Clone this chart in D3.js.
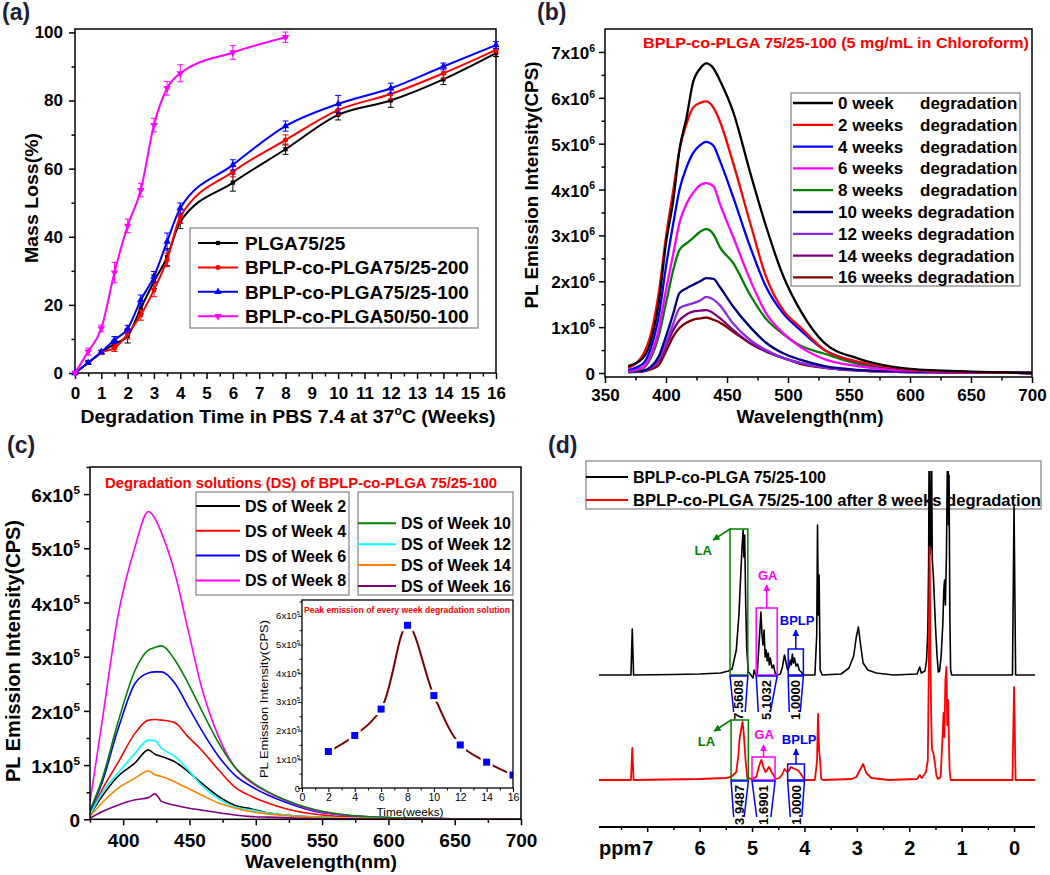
<!DOCTYPE html>
<html><head><meta charset="utf-8">
<script src="https://cdn.jsdelivr.net/npm/d3@7"></script>
<style>
body{margin:0;background:#fff}
svg{display:block}
text{font-family:"Liberation Sans",Arial,sans-serif}
</style>
</head><body>
<svg id="c" width="1050" height="875"></svg>
<script>
// ================= DATA =================
// (a) mass loss
const weeksA = [0,0.5,1,1.5,2,2.5,3,3.5,4,6,8,10,12,14,16];
const plga7525 = [0,3,6,8.5,10.8,19,26.8,34,44.4,55.9,65.7,75.8,80,86.2,93.9];
const plga7525Err = [0,0.5,0.6,1,2,1.5,2,2.5,2,2.5,1.5,1.5,2,1.5,1];
const bplp200 = [0,3,6,7.3,11.5,17,24.4,33.2,45.9,59.1,68.4,77.2,81.9,88,94.9];
const bplp200Err = [0,0.5,0.5,1,1.5,1.5,2,2,2,1.5,1.5,1.5,1.5,1.5,1];
const bplp100 = [0,3,6.2,9.7,13,21.4,28.3,38.6,48.4,61.1,72.5,79,83.6,90,96.3];
const bplp100Err = [0,0.5,0.5,1,1,1.5,1.5,2.5,1.5,1.5,1.5,2.5,1.5,1,1];
const weeksA5050 = [0,0.5,1,1.5,2,2.5,3,3.5,4,6,8];
const bplp5050 = [0,6.3,13.1,29.5,43.2,53.7,72.8,83.6,88,94.1,98.6];
const bplp5050Err = [0,1,1,3,2,2,2,2,2.5,2,1.5];
const namesA = ["PLGA75/25","BPLP-co-PLGA75/25-200","BPLP-co-PLGA75/25-100","BPLP-co-PLGA50/50-100"];
const ticksA = [0,1,2,3,4,5,6,7,8,9,10,11,12,13,14,15,16];

// (b) PL spectra of films (units of 1e6 CPS)
const wlB = [369,381,387,394,400,406,411,417,422,428,433,439,444,455,469,482,496,510,530,557,585,600,650,700];
const wk0  = [0.15,0.32,0.65,1.52,2.83,3.77,4.86,5.59,6.32,6.64,6.75,6.64,6.39,5.7,4.37,3.2,2.12,1.37,0.65,0.32,0.14,0.09,0.03,0];
const wk2  = [0.11,0.39,0.79,1.74,2.97,3.99,4.86,5.45,5.78,5.89,5.92,5.78,5.5,4.58,3.27,2.1,1.37,1.0,0.5,0.25,0.12,0.07,0.02,0];
const wk4  = [0.07,0.2,0.5,1.23,2.32,3.27,3.99,4.5,4.79,4.97,5.04,4.95,4.64,3.84,2.75,1.88,1.3,0.94,0.5,0.24,0.11,0.07,0.02,0];
const wk6  = [0.04,0.12,0.36,0.94,1.81,2.61,3.27,3.7,3.92,4.1,4.14,4.07,3.7,2.97,2.03,1.3,0.87,0.57,0.3,0.15,0.07,0.05,0.01,0];
const wk8  = [0.03,0.1,0.3,0.8,1.52,2.25,2.68,2.83,2.94,3.08,3.14,3.02,2.75,2.4,1.7,1.18,0.85,0.6,0.42,0.2,0.1,0.07,0.02,0];
const wk10 = [0.03,0.05,0.12,0.36,0.8,1.3,1.74,1.85,1.92,2.0,2.07,2.05,1.88,1.45,1.0,0.66,0.43,0.29,0.15,0.07,0.04,0.03,0.01,0];
const wk12 = [0.02,0.04,0.1,0.29,0.65,1.08,1.41,1.48,1.52,1.58,1.66,1.6,1.48,1.08,0.72,0.5,0.33,0.22,0.12,0.06,0.03,0.02,0.01,0];
const wk14 = [0.02,0.04,0.1,0.25,0.58,0.94,1.15,1.28,1.34,1.36,1.37,1.3,1.2,0.94,0.65,0.47,0.33,0.22,0.12,0.06,0.03,0.02,0.01,0];
const wk16 = [0.02,0.03,0.07,0.17,0.47,0.8,0.98,1.1,1.16,1.19,1.21,1.16,1.1,0.9,0.65,0.47,0.33,0.2,0.11,0.05,0.03,0.02,0.01,0];
const labelsB = ["0 week","2 weeks","4 weeks","6 weeks","8 weeks","10 weeks","12 weeks","14 weeks","16 weeks"];
const colorsB = ["#000000","#FF0000","#0000FF","#FF00FF","#008000","#000080","#8A2BE2","#800080","#800000"];

// (c) PL spectra of degradation solutions (units of 1e5 CPS)
const wlC = [375,384,396,409,419,424,429,439,449,459,472,484,497,509,522,550,600,650,700];
const ds2  = [0.08,0.42,0.79,1.04,1.28,1.2,1.16,1.06,0.88,0.67,0.42,0.26,0.19,0.12,0.08,0.04,0.01,0,0];
const ds4  = [0.1,0.54,1.04,1.59,1.83,1.84,1.83,1.78,1.52,1.28,0.91,0.6,0.42,0.3,0.2,0.08,0.02,0.01,0];
const ds6  = [0.15,0.67,1.65,2.51,2.7,2.72,2.72,2.51,2.08,1.65,1.16,0.82,0.6,0.45,0.32,0.12,0.03,0.01,0];
const ds8  = [0.32,1.78,3.74,5.03,5.68,5.55,5.28,4.54,3.49,2.45,1.52,0.97,0.67,0.5,0.35,0.13,0.03,0.01,0];
const ds10 = [0.17,0.73,1.78,2.75,3.12,3.17,3.2,2.94,2.51,2.02,1.41,0.97,0.69,0.51,0.36,0.15,0.03,0.01,0];
const ds12 = [0.08,0.48,0.85,1.22,1.46,1.45,1.31,1.16,0.91,0.63,0.38,0.23,0.17,0.12,0.08,0.04,0.01,0,0];
const ds14 = [0.05,0.3,0.57,0.76,0.89,0.82,0.79,0.69,0.57,0.45,0.3,0.21,0.14,0.1,0.07,0.03,0.01,0,0];
const ds16 = [0.02,0.14,0.26,0.36,0.4,0.47,0.33,0.26,0.21,0.17,0.12,0.08,0.05,0.04,0.03,0.01,0,0,0];
const labelsC = ["DS of Week 2","DS of Week 4","DS of Week 6","DS of Week 8","DS of Week 10","DS of Week 12","DS of Week 14","DS of Week 16"];
const colorsC = ["#000000","#FF0000","#0000FF","#FF00FF","#008000","#00FFFF","#FF8000","#800080"];
// inset: peak emission (1e5 CPS)
const weeksInset = [2,4,6,8,10,12,14,16];
const peakInset = [1.27,1.83,2.75,5.67,3.22,1.5,0.9,0.45];

// (d) 1H NMR [ppm, intensity]
const nmrBefore = [[7.92,0],[7.31,0],[7.285,46],[7.26,0],[6.5,0.5],[6.0,1],[5.6,2],[5.45,4],[5.38,6],[5.30,25],[5.25,60],[5.22,95],[5.19,128],[5.17,145],[5.155,118],[5.14,140],[5.12,70],[5.10,25],[5.07,3],[5.02,0],[4.98,-3],[4.96,5],[4.93,0],[4.90,2],[4.87,28],[4.85,45],[4.83,63],[4.81,40],[4.79,30],[4.77,45],[4.75,18],[4.73,25],[4.71,14],[4.69,22],[4.67,10],[4.65,17],[4.62,7],[4.59,10],[4.56,2],[4.52,0],[4.46,1],[4.42,8],[4.38,20],[4.35,12],[4.32,5],[4.29,8],[4.27,15],[4.25,10],[4.23,21],[4.21,12],[4.19,17],[4.16,9],[4.13,11],[4.10,5],[4.06,3],[4.02,0],[3.80,0],[3.765,40],[3.75,150],[3.735,60],[3.72,100],[3.70,5],[3.66,0],[3.30,1],[3.15,7],[3.06,19],[3.01,38],[2.97,48],[2.93,31],[2.88,12],[2.79,5],[2.63,2],[2.3,0],[1.85,1],[1.80,8],[1.77,2],[1.70,4],[1.67,14],[1.645,45],[1.63,110],[1.62,240],[1.605,120],[1.59,130],[1.575,240],[1.56,115],[1.54,100],[1.52,75],[1.50,50],[1.47,20],[1.445,3],[1.42,4],[1.39,20],[1.36,50],[1.34,85],[1.325,95],[1.31,70],[1.29,120],[1.275,200],[1.26,240],[1.25,150],[1.24,200],[1.225,60],[1.21,5],[1.19,0],[0.5,0],[0.03,0],[0.0,170],[-0.03,0],[-0.4,0]];
const nmrAfter = [[7.92,0],[7.31,0],[7.285,32],[7.26,0],[6.0,1],[5.5,2],[5.4,3],[5.3,8],[5.26,25],[5.24,40],[5.21,50],[5.19,56],[5.18,58],[5.16,48],[5.15,40],[5.12,18],[5.09,2],[5.0,1],[4.92,3],[4.87,13],[4.84,18],[4.82,20],[4.79,14],[4.77,11],[4.74,8],[4.71,10],[4.68,13],[4.66,12],[4.63,8],[4.60,6],[4.55,1],[4.48,2],[4.43,5],[4.38,11],[4.33,8],[4.30,9],[4.26,13],[4.22,12],[4.18,11],[4.14,10],[4.11,9],[4.07,6],[4.03,3],[3.99,0],[3.80,0],[3.76,19],[3.74,66],[3.72,30],[3.70,19],[3.68,1],[3.64,0],[3.1,1],[3.01,3],[2.94,10],[2.88,16],[2.82,7],[2.72,2],[2.4,0],[1.85,1],[1.80,5],[1.76,2],[1.68,8],[1.645,20],[1.625,120],[1.61,233],[1.595,120],[1.58,60],[1.565,30],[1.54,27],[1.51,17],[1.48,4],[1.45,1],[1.40,3],[1.37,37],[1.345,67],[1.33,43],[1.31,100],[1.29,113],[1.275,55],[1.26,80],[1.245,45],[1.23,10],[1.21,0],[0.5,0],[0.03,0],[0.0,93],[-0.03,0],[-0.4,0]];
const namesD = ["BPLP-co-PLGA 75/25-100","BPLP-co-PLGA 75/25-100 after 8 weeks degradation"];
const regionNames = ["LA","GA","BPLP"];
const regionColors = ["#008000","#FF00FF","#0000FF"];
const boxPpmBefore = [[5.42,5.08],[4.92,4.52],[4.31,4.02]];
const boxTopBefore = [146,67,26];
const trapPpmBefore = [[5.35,5.13],[4.88,4.65],[4.29,4.08]];
const integBefore = ["7.5608","5.1032","1.0000"];
const boxPpmAfter = [[5.40,5.07],[5.00,4.56],[4.32,4.00]];
const boxTopAfter = [60,23,16];
const trapPpmAfter = [[5.35,5.15],[4.91,4.64],[4.27,4.05]];
const integAfter = ["3.9487","1.6901","1.0000"];
const ppmTicks = [0,1,2,3,4,5,6,7];

// ================= HELPERS =================
const svg = d3.select('#c');
const defs = svg.append('defs');
const FONT = '"Liberation Sans", Arial, sans-serif';

function T(g, x, y, s, size, o = {}) {
  const t = g.append('text').attr('x', x).attr('y', y).attr('font-size', size)
    .attr('font-weight', o.weight || 'bold').attr('fill', o.fill || '#000')
    .attr('text-anchor', o.anchor || 'start').text(s);
  if (o.len) t.attr('textLength', o.len).attr('lengthAdjust', 'spacingAndGlyphs');
  if (o.rot) t.attr('transform', `rotate(${o.rot},${x},${y})`);
  if (o.family) t.attr('font-family', o.family);
  if (o.dy) t.attr('dy', o.dy);
  return t;
}
function sci(g, x, y, mant, exp, size, weight) {
  const t = g.append('text').attr('x', x).attr('y', y).attr('font-size', size)
    .attr('font-weight', weight || 'bold').attr('text-anchor', 'end').attr('fill', '#000');
  if (mant === 0) { t.text('0'); return t; }
  t.append('tspan').text(mant + 'x10');
  t.append('tspan').attr('font-size', size * 0.62).attr('dy', -size * 0.42).text(exp);
  return t;
}
function axisTicks(g, axisFn, scale, major, minor, majLen, minLen, tr, fmt, fs, pad, weight, sw) {
  const a = g.append('g').attr('transform', tr)
    .call(axisFn(scale).tickValues(major).tickSize(majLen).tickPadding(pad).tickFormat(fmt || (() => '')));
  a.select('.domain').remove();
  a.selectAll('line').attr('stroke', '#000').attr('stroke-width', sw || 1.5);
  a.selectAll('text').attr('font-size', fs).attr('font-weight', weight || 'bold').attr('font-family', FONT).attr('fill', '#000');
  if (minor) {
    const m = g.append('g').attr('transform', tr).call(axisFn(scale).tickValues(minor).tickSize(minLen).tickFormat(() => ''));
    m.select('.domain').remove();
    m.selectAll('line').attr('stroke', '#000').attr('stroke-width', sw || 1.5);
  }
}
function frame(g, x0, y0, x1, y1, sw) {
  g.append('rect').attr('x', x0).attr('y', y0).attr('width', x1 - x0).attr('height', y1 - y0)
    .attr('fill', 'none').attr('stroke', '#000').attr('stroke-width', sw || 1.5);
}
function legendBox(g, x0, y0, x1, y1) {
  g.append('rect').attr('x', x0).attr('y', y0).attr('width', x1 - x0).attr('height', y1 - y0)
    .attr('fill', '#fff').attr('stroke', '#808080').attr('stroke-width', 1.2);
}
function panelLabel(x, y, s) {
  T(svg, x, y, s, 23, { family: '"Liberation Serif", "Times New Roman", serif', fill: '#1e1e38' });
}
function clip(id, x0, y0, x1, y1) {
  defs.append('clipPath').attr('id', id).append('rect').attr('x', x0).attr('y', y0).attr('width', x1 - x0).attr('height', y1 - y0);
}
function arrowMarker(id, color) {
  defs.append('marker').attr('id', id).attr('viewBox', '0 0 10 10').attr('refX', 9).attr('refY', 5)
    .attr('markerWidth', 7).attr('markerHeight', 7).attr('markerUnits', 'userSpaceOnUse').attr('orient', 'auto')
    .append('path').attr('d', 'M0,0 L10,5 L0,10 z').attr('fill', color);
}
regionColors.forEach((c, i) => arrowMarker('arr' + i, c));

// ================= PANEL (a) =================
{
  const g = svg.append('g');
  const x = d3.scaleLinear().domain([0, 16]).range([75, 496]);
  const y = d3.scaleLinear().domain([0, 101]).range([373, 29]);
  axisTicks(g, d3.axisBottom, x, ticksA, d3.range(0.5, 16, 1), 6, 3.5, 'translate(0,373)', d3.format('d'), 17, 8);
  axisTicks(g, d3.axisLeft, y, d3.range(0, 101, 20), d3.range(10, 100, 20), 6, 3.5, 'translate(75,0)', d3.format('d'), 17, 6);
  frame(g, 75, 29, 496, 373);
  T(g, 38, 198, 'Mass Loss(%)', 19, { anchor: 'middle', rot: -90, len: 130 });
  const xt = T(g, 288, 423, '', 19, { anchor: 'middle', len: 415 });
  xt.append('tspan').text('Degradation Time in PBS 7.4 at 37');
  xt.append('tspan').attr('font-size', 12).attr('dy', -8).text('o');
  xt.append('tspan').attr('dy', 8).text('C (Weeks)');

  const series = [
    { xs: weeksA, ys: plga7525, es: plga7525Err, color: '#000000', sym: d3.symbolSquare, size: 18 },
    { xs: weeksA, ys: bplp200, es: bplp200Err, color: '#FF0000', sym: d3.symbolCircle, size: 20 },
    { xs: weeksA, ys: bplp100, es: bplp100Err, color: '#0000FF', sym: d3.symbolTriangle, size: 24 },
    { xs: weeksA5050, ys: bplp5050, es: bplp5050Err, color: '#FF00FF', sym: d3.symbolTriangle, size: 24, down: true }
  ];
  const line = d3.line().x(d => x(d[0])).y(d => y(d[1])).curve(d3.curveMonotoneX);
  series.forEach(s => {
    const pts = s.xs.map((v, i) => [v, s.ys[i], s.es[i]]);
    g.append('path').attr('d', line(pts)).attr('fill', 'none').attr('stroke', s.color).attr('stroke-width', 2);
    pts.forEach(p => {
      if (p[2] > 0) {
        const xx = x(p[0]);
        g.append('line').attr('x1', xx).attr('x2', xx).attr('y1', y(p[1] - p[2])).attr('y2', y(p[1] + p[2])).attr('stroke', s.color).attr('stroke-width', 1);
        [p[1] - p[2], p[1] + p[2]].forEach(v => g.append('line').attr('x1', xx - 3).attr('x2', xx + 3).attr('y1', y(v)).attr('y2', y(v)).attr('stroke', s.color).attr('stroke-width', 1));
      }
      g.append('path').attr('d', d3.symbol().type(s.sym).size(s.size)()).attr('fill', s.color)
        .attr('transform', `translate(${x(p[0])},${y(p[1])})` + (s.down ? ' rotate(180)' : ''));
    });
  });
  legendBox(g, 190, 228, 478, 328);
  series.forEach((s, i) => {
    const ly = 243 + i * 24.4;
    g.append('line').attr('x1', 198).attr('x2', 238).attr('y1', ly).attr('y2', ly).attr('stroke', s.color).attr('stroke-width', 2);
    g.append('path').attr('d', d3.symbol().type(s.sym).size(s.size)()).attr('fill', s.color)
      .attr('transform', `translate(218,${ly})` + (s.down ? ' rotate(180)' : ''));
    T(g, 245, ly + 7, namesA[i], 19);
  });
  panelLabel(2, 20, '(a)');
}

// ================= PANEL (b) =================
{
  const g = svg.append('g');
  const x = d3.scaleLinear().domain([350, 700]).range([605, 1032]);
  const y = d3.scaleLinear().domain([-0.087, 7.5]).range([377, 29]);
  axisTicks(g, d3.axisBottom, x, d3.range(350, 701, 50), d3.range(375, 700, 50), 6, 3.5, 'translate(0,377)', d3.format('d'), 17, 6);
  axisTicks(g, d3.axisLeft, y, d3.range(0, 8, 1), d3.range(0.5, 7, 1), 6, 3.5, 'translate(605,0)', null, 17, 6);
  d3.range(0, 8, 1).forEach(v => sci(g, 595, y(v) + 7, v, '6', 17));
  frame(g, 605, 29, 1032, 377);
  T(g, 538, 185, 'PL Emission Intensity(CPS)', 19, { anchor: 'middle', rot: -90, len: 247 });
  T(g, 810, 423, 'Wavelength(nm)', 18, { anchor: 'middle', len: 147 });
  T(g, 643, 48, 'BPLP-co-PLGA 75/25-100  (5 mg/mL in Chloroform)', 15, { fill: '#FF0000', len: 386 });
  const curves = [wk0, wk2, wk4, wk6, wk8, wk10, wk12, wk14, wk16];
  const line = d3.line().x((d, i) => x(wlB[i])).y(d => y(d)).curve(d3.curveMonotoneX);
  for (let i = curves.length - 1; i >= 0; i--) {
    g.append('path').attr('d', line(curves[i])).attr('fill', 'none').attr('stroke', colorsB[i]).attr('stroke-width', 2.3);
  }
  legendBox(g, 791, 93, 1020, 286);
  labelsB.forEach((lab, i) => {
    const ly = 103 + i * 21.8;
    g.append('line').attr('x1', 793).attr('x2', 833).attr('y1', ly).attr('y2', ly).attr('stroke', colorsB[i]).attr('stroke-width', 2.3);
    if (lab.length < 8) {
      T(g, 838, ly + 6, lab, 17);
      T(g, 920, ly + 6, 'degradation', 17);
    } else {
      T(g, 838, ly + 6, lab + ' degradation', 17);
    }
  });
  panelLabel(537, 20, '(b)');
}

// ================= PANEL (c) =================
{
  const g = svg.append('g');
  const x = d3.scaleLinear().domain([375, 700]).range([90, 521]);
  const y = d3.scaleLinear().domain([0, 6.5]).range([819.3, 467]);
  axisTicks(g, d3.axisBottom, x, d3.range(400, 701, 50), d3.range(375, 700, 50), 6, 3.5, 'translate(0,819.3)', d3.format('d'), 19, 8);
  axisTicks(g, d3.axisLeft, y, d3.range(0, 7, 1), d3.range(0.5, 6.6, 1), 6, 3.5, 'translate(90,0)', null, 19, 6);
  d3.range(0, 7, 1).forEach(v => sci(g, 80, y(v) + 8, v, '5', 19));
  clip('clipC', 90, 467, 521, 819.3);
  const curves = [ds2, ds4, ds6, ds8, ds10, ds12, ds14, ds16];
  const line = d3.line().x((d, i) => x(wlC[i])).y(d => y(d)).curve(d3.curveMonotoneX);
  const cg = g.append('g').attr('clip-path', 'url(#clipC)');
  curves.forEach((c, i) => cg.append('path').attr('d', line(c)).attr('fill', 'none').attr('stroke', colorsC[i]).attr('stroke-width', 1.6));
  frame(g, 90, 467, 521, 819.3);
  T(g, 20, 651, 'PL Emission Intensity(CPS)', 20, { anchor: 'middle', rot: -90, len: 262 });
  T(g, 321, 868, 'Wavelength(nm)', 19, { anchor: 'middle', len: 152 });
  T(g, 105, 488, 'Degradation solutions (DS) of BPLP-co-PLGA 75/25-100', 15, { fill: '#FF0000', len: 392 });
  legendBox(g, 196, 492, 349, 595);
  legendBox(g, 358, 492, 513, 595);
  labelsC.forEach((lab, i) => {
    let ly, x0, x1, tx;
    if (i < 4) { ly = 506 + i * 24.8; x0 = 196; x1 = 240; tx = 245; }
    else { ly = 523.3 + (i - 4) * 20.9; x0 = 358; x1 = 396; tx = 401; }
    g.append('line').attr('x1', x0).attr('x2', x1).attr('y1', ly).attr('y2', ly).attr('stroke', colorsC[i]).attr('stroke-width', 2);
    T(g, tx, ly + 6, lab, 16);
  });

  // inset
  const xi = d3.scaleLinear().domain([0, 16]).range([302, 513]);
  const yi = d3.scaleLinear().domain([0, 6.55]).range([788, 600]);
  g.append('rect').attr('x', 302).attr('y', 600).attr('width', 211).attr('height', 188).attr('fill', '#fff');
  clip('clipI', 302, 600, 513, 788);
  axisTicks(g, d3.axisBottom, xi, d3.range(0, 17, 2), d3.range(1, 16, 2), 4, 2.5, 'translate(0,788)', d3.format('d'), 10.5, 2, 'normal', 1);
  axisTicks(g, d3.axisLeft, yi, d3.range(0, 7, 1), d3.range(0.5, 6.6, 1), 4, 2.5, 'translate(302,0)', null, 9.5, 4, 'normal', 1);
  d3.range(0, 7, 1).forEach(v => sci(g, 300, yi(v) + 3.5, v, '5', 9.5, 'normal'));
  const ig = g.append('g').attr('clip-path', 'url(#clipI)');
  const pts = weeksInset.map((w, i) => [w, peakInset[i]]);
  ig.append('path').attr('d', d3.line().x(d => xi(d[0])).y(d => yi(d[1])).curve(d3.curveCatmullRom.alpha(0.5))(pts))
    .attr('fill', 'none').attr('stroke', '#7a0000').attr('stroke-width', 2);
  pts.forEach(p => {
    ig.append('rect').attr('x', xi(p[0]) - 6).attr('y', yi(p[1]) - 6).attr('width', 12).attr('height', 12).attr('fill', '#fff');
    ig.append('rect').attr('x', xi(p[0]) - 3.5).attr('y', yi(p[1]) - 3.5).attr('width', 7).attr('height', 7).attr('fill', '#0000FF');
  });
  frame(g, 302, 600, 513, 788, 1.3);
  T(g, 268, 699, 'PL Emission Intensity(CPS)', 11, { anchor: 'middle', rot: -90, len: 158, weight: 'normal' });
  T(g, 410, 815.5, 'Time(weeks)', 11.5, { anchor: 'middle', weight: 'normal', len: 67 });
  T(g, 304, 612.5, 'Peak emission of every week degradation solution', 9.5, { fill: '#FF0000', len: 206 });
  panelLabel(7, 453, '(c)');
}

// ================= PANEL (d) =================
{
  const g = svg.append('g');
  const x = d3.scaleLinear().domain([7.92, -0.4]).range([599, 1035]);
  const h = d3.scaleLinear().domain([0, 100]).range([0, -100]);
  const base = [675, 780];
  axisTicks(g, d3.axisBottom, x, ppmTicks, d3.range(0.5, 7.6, 1), 5, 3, 'translate(0,827)', d3.format('d'), 20, 8.7);
  g.append('line').attr('x1', 599).attr('x2', 1035).attr('y1', 827).attr('y2', 827).attr('stroke', '#000').attr('stroke-width', 2);
  T(g, 599, 855, 'ppm', 20);

  legendBox(g, 586, 461, 1041, 509);
  ['#000000', '#FF0000'].forEach((c, i) => {
    const ly = 477 + i * 23;
    g.append('line').attr('x1', 586).attr('x2', 628).attr('y1', ly).attr('y2', ly).attr('stroke', c).attr('stroke-width', 2);
    T(g, 633, ly + 6, namesD[i], 17, { len: i === 0 ? 193 : 408 });
  });

  clip('clipD', 599, 471, 1035, 830);
  const sg = g.append('g').attr('clip-path', 'url(#clipD)');
  [nmrBefore, nmrAfter].forEach((data, k) => {
    const ln = d3.line().x(d => x(d[0])).y(d => base[k] + h(d[1]));
    sg.append('path').attr('d', ln(data)).attr('fill', 'none')
      .attr('stroke', k === 0 ? '#000' : '#FF0000').attr('stroke-width', k === 0 ? 1.6 : 1.8).attr('stroke-linejoin', 'round');
  });

  const sets = [
    { b: base[0], box: boxPpmBefore, top: boxTopBefore, trap: trapPpmBefore, integ: integBefore,
      arrows: [[[5.42, 146], [5.74, 135]], [[4.72, 67], [4.72, 90]], [[4.165, 26], [4.165, 45]]],
      labels: [[5.93, 120], [4.70, 95], [4.14, 50]] },
    { b: base[1], box: boxPpmAfter, top: boxTopAfter, trap: trapPpmAfter, integ: integAfter,
      arrows: [[[5.40, 60], [5.72, 49]], [[4.78, 23], [4.78, 35]], [[4.16, 16], [4.16, 31]]],
      labels: [[5.87, 34], [4.77, 41], [4.10, 36]] }
  ];
  sets.forEach(s => {
    s.box.forEach((bx, i) => {
      const c = regionColors[i];
      g.append('rect').attr('x', x(bx[0])).attr('y', s.b + h(s.top[i]))
        .attr('width', x(bx[1]) - x(bx[0])).attr('height', -h(s.top[i]))
        .attr('fill', 'none').attr('stroke', c).attr('stroke-width', 1.5);
      const a = s.arrows[i];
      g.append('line').attr('x1', x(a[0][0])).attr('y1', s.b + h(a[0][1])).attr('x2', x(a[1][0])).attr('y2', s.b + h(a[1][1]))
        .attr('stroke', c).attr('stroke-width', 1.5).attr('marker-end', `url(#arr${i})`);
      T(g, x(s.labels[i][0]), s.b + h(s.labels[i][1]), regionNames[i], 13, { anchor: 'middle', fill: c });
      const tb = s.trap[i];
      const p = d3.path();
      p.moveTo(x(tb[0]), s.b + 37); p.lineTo(x(bx[0]), s.b + 1); p.lineTo(x(bx[1]), s.b + 1); p.lineTo(x(tb[1]), s.b + 37);
      g.append('path').attr('d', p.toString()).attr('fill', 'none').attr('stroke', '#0000FF').attr('stroke-width', 1.5);
      const cx = (x(bx[0]) + x(bx[1])) / 2;
      T(g, cx, s.b + 25, s.integ[i], 13, { anchor: 'middle', rot: -90, dy: '0.35em' });
    });
  });
  panelLabel(548, 453, '(d)');
}
</script>
</body></html>
